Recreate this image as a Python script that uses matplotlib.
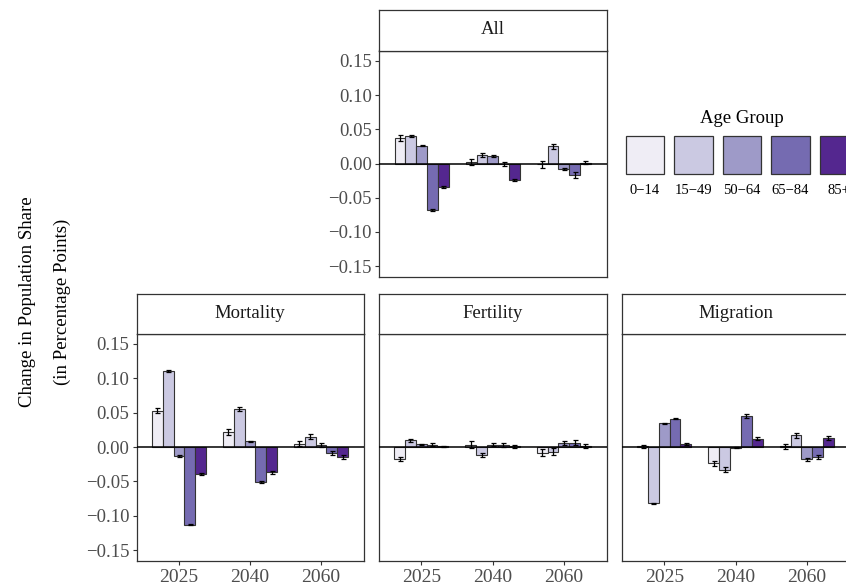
import numpy as np
import matplotlib
matplotlib.use("Agg")
import matplotlib.pyplot as plt
from matplotlib.patches import Rectangle

plt.rcParams['font.family'] = ['Liberation Serif', 'DejaVu Serif']

years = ["2025", "2040", "2060"]
age_groups = ["0\u221214", "15\u221249", "50\u221264", "65\u221284", "85+"]
colors = ["#efedf5", "#cbc9e2", "#9e9ac8", "#756bb1", "#54278f"]

# change in share per age group, rows = years
all_vals = [[0.037, 0.040, 0.026, -0.068, -0.0345],
            [0.002, 0.012, 0.011, -0.001, -0.024],
            [-0.001, 0.025, -0.008, -0.017, 0.001]]
all_err = [[0.004, 0.002, 0.001, 0.001, 0.001],
           [0.004, 0.003, 0.002, 0.003, 0.001],
           [0.005, 0.004, 0.002, 0.004, 0.002]]

mort_vals = [[0.053, 0.111, -0.013, -0.113, -0.039],
             [0.022, 0.055, 0.008, -0.051, -0.037],
             [0.005, 0.015, 0.003, -0.009, -0.015]]
mort_err = [[0.003, 0.0015, 0.001, 0.001, 0.001],
            [0.004, 0.003, 0.001, 0.002, 0.002],
            [0.004, 0.004, 0.003, 0.003, 0.003]]

fert_vals = [[-0.018, 0.0097, 0.004, 0.0034, 0.001],
             [0.003, -0.0116, 0.0034, 0.0034, 0.001],
             [-0.008, -0.007, 0.006, 0.0063, 0.002]]
fert_err = [[0.003, 0.002, 0.001, 0.002, 0.001],
            [0.005, 0.003, 0.002, 0.003, 0.002],
            [0.005, 0.005, 0.003, 0.004, 0.003]]

migr_vals = [[0.001, -0.082, 0.0344, 0.041, 0.0044],
             [-0.0237, -0.033, -0.001, 0.045, 0.012],
             [0.001, 0.017, -0.018, -0.0145, 0.0135]]
migr_err = [[0.002, 0.001, 0.001, 0.001, 0.001],
            [0.004, 0.004, 0.001, 0.003, 0.002],
            [0.004, 0.004, 0.002, 0.003, 0.003]]

W, H = 846, 585
fig = plt.figure(figsize=(W / 100, H / 100), dpi=100)

dark = "#333333"
tick_col = "#4D4D4D"
fs = 13.5
bar_w = 0.152


def px_axes(left, top, right, bottom):
    return fig.add_axes([left / W, 1 - bottom / H, (right - left) / W, (bottom - top) / H])


def panel(left, top, right, bottom, strip_top, title, vals, errs, show_y, show_x):
    ax = px_axes(left, top, right, bottom)
    x = np.arange(1, len(years) + 1)
    vals = np.array(vals)
    errs = np.array(errs)
    for i, col in enumerate(colors):
        xi = x + (i - 2) * bar_w
        ax.bar(xi, vals[:, i], width=bar_w, color=col, edgecolor=dark,
               linewidth=0.8, zorder=2)
        ax.errorbar(xi, vals[:, i], yerr=errs[:, i], fmt="none", ecolor="black",
                    elinewidth=0.9, capsize=1.8, capthick=0.9, zorder=4)
    ax.axhline(0, color="black", lw=1.1, zorder=3)
    ax.set_xlim(0.4, 3.6)
    ax.set_ylim(-0.165, 0.165)
    ax.set_yticks([-0.15, -0.10, -0.05, 0.0, 0.05, 0.10, 0.15])
    ax.set_yticklabels(["\u22120.15", "\u22120.10", "\u22120.05", "0.00",
                        "0.05", "0.10", "0.15"])
    ax.set_xticks(x)
    ax.set_xticklabels(years)
    for s in ax.spines.values():
        s.set_color(dark)
        s.set_linewidth(0.9)
    ax.tick_params(axis="both", colors=dark, labelcolor=tick_col, labelsize=fs,
                   length=3, width=0.8, pad=2)
    ax.tick_params(axis="x", labelsize=14, pad=3)
    if not show_y:
        ax.tick_params(axis="y", left=False, labelleft=False)
    if not show_x:
        ax.tick_params(axis="x", bottom=False, labelbottom=False)

    st = px_axes(left, strip_top, right, top)
    st.set_xticks([])
    st.set_yticks([])
    for s in st.spines.values():
        s.set_color(dark)
        s.set_linewidth(0.9)
    st.text(0.5, 0.5, title, ha="center", va="center", fontsize=13.5,
            color="#1a1a1a", transform=st.transAxes)
    return ax


panel(379, 50.5, 606.5, 276.5, 9.5, "All", all_vals, all_err, True, False)
panel(136.5, 333.5, 363.5, 560.5, 293.5, "Mortality", mort_vals, mort_err, True, True)
panel(378.5, 333.5, 606.5, 560.5, 293.5, "Fertility", fert_vals, fert_err, False, True)
panel(621.5, 333.5, 849.5, 560.5, 293.5, "Migration", migr_vals, migr_err, False, True)

# legend: keys in a row with labels underneath
key_w, key_h, pitch = 38.7, 38.5, 48.5
x0, ytop = 625.7, 135.7
fig.text(742 / W, 1 - 119 / H, "Age Group", ha="center", va="center",
         fontsize=13.5, color="black")
for i, (col, lab) in enumerate(zip(colors, age_groups)):
    lx = x0 + i * pitch
    fig.add_artist(Rectangle((lx / W, 1 - (ytop + key_h) / H), key_w / W, key_h / H,
                             transform=fig.transFigure, facecolor=col,
                             edgecolor=dark, linewidth=0.9))
    fig.text((lx + key_w / 2) / W, 1 - 190 / H, lab, ha="center", va="center",
             fontsize=10.5, color="black")

fig.text(28 / W, 1 - 302 / H, "Change in Population Share", rotation=90,
         ha="center", va="center", fontsize=13.5, color="black")
fig.text(62 / W, 1 - 302 / H, "(in Percentage Points)", rotation=90,
         ha="center", va="center", fontsize=13.5, color="black")

fig.savefig("out.png", dpi=100)
